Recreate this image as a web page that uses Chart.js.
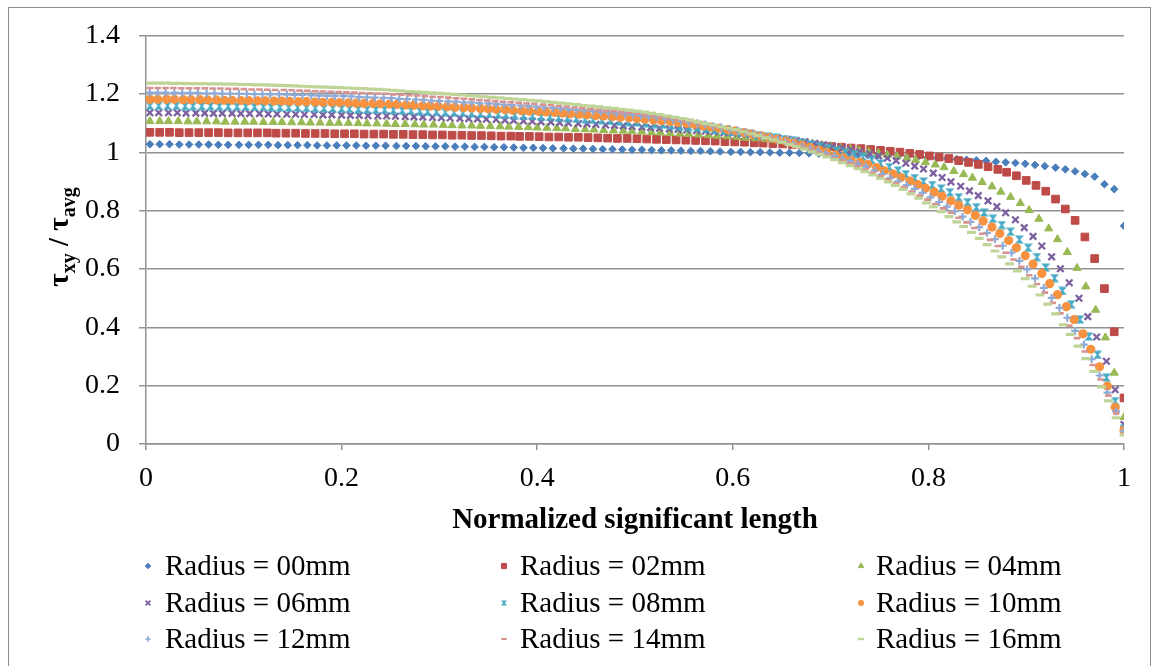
<!DOCTYPE html>
<html>
<head>
<meta charset="utf-8">
<script src="https://cdn.jsdelivr.net/npm/chart.js@4.4.1/dist/chart.umd.min.js"></script>
<style>
  body { margin: 0; background: #fff; }
  #wrap { position: relative; width: 1158px; height: 666px; overflow: hidden; }
  #frame { position: absolute; left: 8px; top: 7px; width: 1141px; height: 700px; border: 1px solid #8c8c8c; }
  #c { position: absolute; left: 0; top: 0; }
</style>
</head>
<body>
<div id="wrap">
  <div id="frame"></div>
  <canvas id="c" width="1158" height="666"></canvas>
</div>
<script>
// series names
const seriesNames = ['Radius = 00mm', 'Radius = 02mm', 'Radius = 04mm', 'Radius = 06mm', 'Radius = 08mm',
  'Radius = 10mm', 'Radius = 12mm', 'Radius = 14mm', 'Radius = 16mm'];

// axis ticks
const xTicks = [0, 0.2, 0.4, 0.6, 0.8, 1];
const yTicks = [0, 0.2, 0.4, 0.6, 0.8, 1, 1.2, 1.4];

// Radius = 00mm
const r00x = [0.004,0.014,0.024,0.034,0.044,0.054,0.064,0.074,0.084,0.095,
0.105,0.115,0.125,0.135,0.145,0.155,0.165,0.175,0.185,0.195,
0.205,0.215,0.225,0.235,0.245,0.256,0.266,0.276,0.286,0.296,
0.306,0.316,0.326,0.336,0.346,0.356,0.366,0.376,0.386,0.396,
0.406,0.416,0.427,0.437,0.447,0.457,0.467,0.477,0.487,0.497,
0.507,0.517,0.527,0.537,0.547,0.557,0.567,0.577,0.587,0.598,
0.608,0.618,0.628,0.638,0.648,0.658,0.668,0.678,0.688,0.698,
0.708,0.718,0.728,0.738,0.748,0.759,0.769,0.779,0.789,0.799,
0.809,0.819,0.829,0.839,0.849,0.859,0.869,0.879,0.889,0.899,
0.909,0.919,0.930,0.940,0.950,0.960,0.970,0.980,0.990,1.000];
const r00y = [1.028,1.028,1.028,1.027,1.027,1.027,1.027,1.026,1.026,1.026,
1.026,1.026,1.026,1.025,1.025,1.025,1.025,1.024,1.024,1.024,
1.024,1.024,1.023,1.023,1.023,1.022,1.022,1.022,1.021,1.021,
1.021,1.020,1.020,1.019,1.019,1.018,1.018,1.017,1.016,1.016,
1.015,1.014,1.014,1.013,1.013,1.012,1.011,1.011,1.010,1.009,
1.009,1.008,1.007,1.007,1.006,1.005,1.005,1.004,1.003,1.002,
1.002,1.001,1.001,1.000,0.999,0.999,0.998,0.997,0.996,0.995,
0.994,0.993,0.992,0.991,0.990,0.989,0.987,0.986,0.984,0.983,
0.981,0.979,0.977,0.975,0.973,0.971,0.968,0.966,0.964,0.961,
0.957,0.953,0.948,0.942,0.935,0.926,0.917,0.891,0.874,0.748];

// Radius = 02mm
const r02x = [0.004,0.014,0.024,0.034,0.044,0.054,0.064,0.074,0.084,0.094,
0.104,0.114,0.124,0.133,0.143,0.153,0.163,0.173,0.183,0.193,
0.203,0.213,0.223,0.233,0.243,0.253,0.263,0.273,0.283,0.293,
0.303,0.313,0.323,0.333,0.343,0.353,0.363,0.373,0.382,0.392,
0.402,0.412,0.422,0.432,0.442,0.452,0.462,0.472,0.482,0.492,
0.502,0.512,0.522,0.532,0.542,0.552,0.562,0.572,0.582,0.592,
0.602,0.612,0.622,0.631,0.641,0.651,0.661,0.671,0.681,0.691,
0.701,0.711,0.721,0.731,0.741,0.751,0.761,0.771,0.781,0.791,
0.801,0.811,0.821,0.831,0.841,0.851,0.861,0.871,0.880,0.890,
0.900,0.910,0.920,0.930,0.940,0.950,0.960,0.970,0.980,0.990,
1.000];
const r02y = [1.069,1.069,1.069,1.068,1.068,1.068,1.068,1.068,1.067,1.067,
1.067,1.067,1.067,1.066,1.066,1.066,1.065,1.065,1.065,1.064,
1.064,1.064,1.063,1.063,1.063,1.062,1.062,1.061,1.061,1.060,
1.060,1.059,1.059,1.058,1.058,1.057,1.056,1.056,1.055,1.055,
1.054,1.053,1.053,1.052,1.052,1.051,1.050,1.049,1.048,1.048,
1.047,1.046,1.045,1.044,1.043,1.042,1.041,1.040,1.039,1.037,
1.036,1.035,1.033,1.032,1.030,1.029,1.027,1.026,1.024,1.022,
1.020,1.018,1.015,1.013,1.010,1.007,1.004,1.001,0.997,0.993,
0.988,0.984,0.979,0.972,0.966,0.959,0.951,0.942,0.932,0.920,
0.904,0.887,0.867,0.840,0.806,0.767,0.710,0.636,0.533,0.385,
0.158];

// Radius = 04mm
const r04x = [0.004,0.014,0.023,0.033,0.043,0.052,0.062,0.072,0.081,0.091,
0.101,0.110,0.120,0.130,0.139,0.149,0.159,0.168,0.178,0.188,
0.197,0.207,0.217,0.226,0.236,0.246,0.255,0.265,0.275,0.284,
0.294,0.304,0.313,0.323,0.333,0.342,0.352,0.362,0.371,0.381,
0.391,0.400,0.410,0.420,0.429,0.439,0.449,0.458,0.468,0.478,
0.488,0.497,0.507,0.517,0.526,0.536,0.546,0.555,0.565,0.575,
0.584,0.594,0.604,0.613,0.623,0.633,0.642,0.652,0.662,0.671,
0.681,0.691,0.700,0.710,0.720,0.729,0.739,0.749,0.758,0.768,
0.778,0.787,0.797,0.807,0.816,0.826,0.836,0.845,0.855,0.865,
0.874,0.884,0.894,0.903,0.913,0.923,0.932,0.942,0.952,0.961,
0.971,0.981,0.990,1.000];
const r04y = [1.107,1.107,1.107,1.107,1.106,1.106,1.106,1.106,1.105,1.105,
1.105,1.105,1.104,1.104,1.104,1.103,1.103,1.102,1.102,1.101,
1.101,1.101,1.100,1.099,1.099,1.098,1.097,1.097,1.096,1.095,
1.095,1.094,1.093,1.092,1.092,1.091,1.090,1.089,1.088,1.087,
1.086,1.085,1.084,1.083,1.082,1.080,1.079,1.078,1.076,1.075,
1.074,1.072,1.071,1.069,1.068,1.066,1.064,1.063,1.061,1.059,
1.057,1.055,1.053,1.050,1.048,1.045,1.043,1.039,1.036,1.033,
1.029,1.025,1.021,1.016,1.012,1.007,1.002,0.997,0.991,0.986,
0.980,0.974,0.966,0.958,0.949,0.936,0.925,0.913,0.898,0.883,
0.865,0.847,0.826,0.802,0.772,0.739,0.702,0.658,0.603,0.540,
0.460,0.365,0.244,0.092];

// Radius = 06mm
const r06x = [0.004,0.013,0.023,0.032,0.041,0.051,0.060,0.069,0.078,0.088,
0.097,0.106,0.116,0.125,0.134,0.144,0.153,0.162,0.172,0.181,
0.190,0.200,0.209,0.218,0.227,0.237,0.246,0.255,0.265,0.274,
0.283,0.293,0.302,0.311,0.321,0.330,0.339,0.348,0.358,0.367,
0.376,0.386,0.395,0.404,0.414,0.423,0.432,0.442,0.451,0.460,
0.470,0.479,0.488,0.497,0.507,0.516,0.525,0.535,0.544,0.553,
0.563,0.572,0.581,0.591,0.600,0.609,0.618,0.628,0.637,0.646,
0.656,0.665,0.674,0.684,0.693,0.702,0.712,0.721,0.730,0.740,
0.749,0.758,0.767,0.777,0.786,0.795,0.805,0.814,0.823,0.833,
0.842,0.851,0.861,0.870,0.879,0.889,0.898,0.907,0.916,0.926,
0.935,0.944,0.954,0.963,0.972,0.982,0.991,1.000];
const r06y = [1.136,1.136,1.136,1.136,1.135,1.135,1.135,1.134,1.134,1.134,
1.133,1.133,1.133,1.132,1.132,1.131,1.131,1.130,1.130,1.129,
1.129,1.128,1.127,1.127,1.126,1.125,1.125,1.124,1.123,1.122,
1.121,1.120,1.119,1.118,1.117,1.116,1.115,1.114,1.113,1.111,
1.110,1.108,1.107,1.105,1.104,1.102,1.101,1.099,1.098,1.096,
1.094,1.093,1.091,1.089,1.087,1.085,1.083,1.081,1.079,1.077,
1.075,1.073,1.071,1.068,1.066,1.063,1.060,1.056,1.053,1.049,
1.045,1.041,1.036,1.031,1.026,1.021,1.015,1.009,1.002,0.995,
0.988,0.980,0.972,0.963,0.953,0.943,0.929,0.914,0.899,0.884,
0.868,0.852,0.834,0.814,0.793,0.769,0.742,0.712,0.679,0.642,
0.601,0.553,0.500,0.437,0.367,0.284,0.186,0.067];

// Radius = 08mm
const r08x = [0.004,0.013,0.022,0.031,0.040,0.048,0.057,0.066,0.075,0.084,
0.093,0.102,0.111,0.120,0.128,0.137,0.146,0.155,0.164,0.173,
0.182,0.191,0.200,0.208,0.217,0.226,0.235,0.244,0.253,0.262,
0.271,0.280,0.288,0.297,0.306,0.315,0.324,0.333,0.342,0.351,
0.360,0.368,0.377,0.386,0.395,0.404,0.413,0.422,0.431,0.440,
0.449,0.457,0.466,0.475,0.484,0.493,0.502,0.511,0.520,0.529,
0.537,0.546,0.555,0.564,0.573,0.582,0.591,0.600,0.609,0.617,
0.626,0.635,0.644,0.653,0.662,0.671,0.680,0.689,0.697,0.706,
0.715,0.724,0.733,0.742,0.751,0.760,0.769,0.777,0.786,0.795,
0.804,0.813,0.822,0.831,0.840,0.849,0.857,0.866,0.875,0.884,
0.893,0.902,0.911,0.920,0.929,0.937,0.946,0.955,0.964,0.973,
0.982,0.991,1.000];
const r08y = [1.160,1.160,1.160,1.160,1.159,1.159,1.159,1.159,1.158,1.158,
1.157,1.157,1.156,1.156,1.155,1.155,1.154,1.154,1.153,1.152,
1.151,1.151,1.150,1.149,1.148,1.147,1.146,1.146,1.145,1.144,
1.143,1.142,1.140,1.139,1.138,1.137,1.136,1.135,1.133,1.132,
1.131,1.129,1.128,1.126,1.125,1.123,1.122,1.120,1.118,1.116,
1.114,1.112,1.110,1.108,1.106,1.104,1.103,1.100,1.097,1.095,
1.092,1.089,1.087,1.084,1.081,1.077,1.074,1.071,1.068,1.064,
1.059,1.055,1.050,1.045,1.040,1.033,1.027,1.021,1.014,1.007,
1.001,0.994,0.985,0.974,0.962,0.950,0.938,0.925,0.912,0.900,
0.888,0.876,0.863,0.846,0.829,0.812,0.794,0.773,0.751,0.728,
0.701,0.673,0.641,0.605,0.569,0.525,0.479,0.427,0.369,0.306,
0.228,0.147,0.053];

// Radius = 10mm
const r10x = [0.004,0.012,0.021,0.029,0.038,0.046,0.055,0.063,0.072,0.080,
0.088,0.097,0.105,0.114,0.122,0.131,0.139,0.147,0.156,0.164,
0.173,0.181,0.190,0.198,0.207,0.215,0.223,0.232,0.240,0.249,
0.257,0.266,0.274,0.283,0.291,0.299,0.308,0.316,0.325,0.333,
0.342,0.350,0.358,0.367,0.375,0.384,0.392,0.401,0.409,0.418,
0.426,0.434,0.443,0.451,0.460,0.468,0.477,0.485,0.494,0.502,
0.510,0.519,0.527,0.536,0.544,0.553,0.561,0.570,0.578,0.586,
0.595,0.603,0.612,0.620,0.629,0.637,0.645,0.654,0.662,0.671,
0.679,0.688,0.696,0.705,0.713,0.721,0.730,0.738,0.747,0.755,
0.764,0.772,0.781,0.789,0.797,0.806,0.814,0.823,0.831,0.840,
0.848,0.856,0.865,0.873,0.882,0.890,0.899,0.907,0.916,0.924,
0.932,0.941,0.949,0.958,0.966,0.975,0.983,0.991,1.000];
const r10y = [1.182,1.182,1.182,1.182,1.181,1.181,1.181,1.180,1.180,1.179,
1.179,1.178,1.178,1.177,1.177,1.176,1.176,1.175,1.174,1.174,
1.173,1.172,1.172,1.171,1.170,1.169,1.168,1.168,1.167,1.166,
1.165,1.163,1.162,1.160,1.159,1.158,1.157,1.155,1.154,1.152,
1.151,1.150,1.148,1.147,1.145,1.143,1.142,1.141,1.139,1.137,
1.135,1.133,1.131,1.129,1.127,1.125,1.123,1.121,1.119,1.116,
1.114,1.111,1.109,1.106,1.103,1.099,1.096,1.091,1.087,1.083,
1.078,1.074,1.068,1.063,1.057,1.051,1.045,1.039,1.032,1.025,
1.017,1.008,1.000,0.991,0.982,0.973,0.966,0.959,0.948,0.937,
0.926,0.914,0.902,0.890,0.877,0.864,0.850,0.834,0.819,0.803,
0.784,0.765,0.744,0.722,0.698,0.673,0.646,0.617,0.585,0.550,
0.512,0.471,0.427,0.378,0.325,0.265,0.199,0.126,0.047];

// Radius = 12mm
const r12x = [0.004,0.012,0.020,0.029,0.037,0.045,0.053,0.062,0.070,0.078,
0.086,0.095,0.103,0.111,0.119,0.127,0.136,0.144,0.152,0.160,
0.169,0.177,0.185,0.193,0.202,0.210,0.218,0.226,0.234,0.243,
0.251,0.259,0.267,0.276,0.284,0.292,0.300,0.309,0.317,0.325,
0.333,0.341,0.350,0.358,0.366,0.374,0.383,0.391,0.399,0.407,
0.416,0.424,0.432,0.440,0.448,0.457,0.465,0.473,0.481,0.490,
0.498,0.506,0.514,0.522,0.531,0.539,0.547,0.555,0.564,0.572,
0.580,0.588,0.597,0.605,0.613,0.621,0.629,0.638,0.646,0.654,
0.662,0.671,0.679,0.687,0.695,0.704,0.712,0.720,0.728,0.736,
0.745,0.753,0.761,0.769,0.778,0.786,0.794,0.802,0.811,0.819,
0.827,0.835,0.843,0.852,0.860,0.868,0.876,0.885,0.893,0.901,
0.909,0.918,0.926,0.934,0.942,0.950,0.959,0.967,0.975,0.983,
0.992,1.000];
const r12y = [1.205,1.205,1.205,1.205,1.204,1.204,1.204,1.203,1.203,1.202,
1.202,1.201,1.201,1.200,1.200,1.199,1.199,1.198,1.197,1.197,
1.196,1.195,1.194,1.193,1.193,1.192,1.190,1.189,1.188,1.187,
1.186,1.184,1.183,1.181,1.180,1.178,1.177,1.175,1.174,1.172,
1.171,1.169,1.168,1.166,1.164,1.162,1.161,1.159,1.157,1.155,
1.153,1.151,1.148,1.146,1.144,1.142,1.139,1.137,1.134,1.131,
1.129,1.126,1.123,1.120,1.116,1.112,1.108,1.104,1.100,1.096,
1.090,1.086,1.080,1.075,1.069,1.063,1.057,1.050,1.043,1.036,
1.029,1.021,1.013,1.005,0.997,0.988,0.979,0.970,0.961,0.951,
0.938,0.926,0.913,0.901,0.888,0.875,0.861,0.846,0.830,0.814,
0.799,0.780,0.762,0.744,0.724,0.703,0.680,0.656,0.628,0.599,
0.568,0.535,0.501,0.467,0.433,0.388,0.341,0.291,0.235,0.176,
0.112,0.044];

// Radius = 14mm
const r14x = [0.004,0.012,0.020,0.028,0.036,0.044,0.052,0.060,0.068,0.076,
0.084,0.092,0.100,0.108,0.116,0.124,0.132,0.141,0.149,0.157,
0.165,0.173,0.181,0.189,0.197,0.205,0.213,0.221,0.229,0.237,
0.245,0.253,0.261,0.269,0.277,0.285,0.293,0.301,0.309,0.317,
0.325,0.333,0.341,0.349,0.357,0.365,0.373,0.381,0.389,0.397,
0.406,0.414,0.422,0.430,0.438,0.446,0.454,0.462,0.470,0.478,
0.486,0.494,0.502,0.510,0.518,0.526,0.534,0.542,0.550,0.558,
0.566,0.574,0.582,0.590,0.598,0.606,0.614,0.622,0.630,0.638,
0.646,0.654,0.662,0.670,0.679,0.687,0.695,0.703,0.711,0.719,
0.727,0.735,0.743,0.751,0.759,0.767,0.775,0.783,0.791,0.799,
0.807,0.815,0.823,0.831,0.839,0.847,0.855,0.863,0.871,0.879,
0.887,0.895,0.903,0.911,0.919,0.927,0.935,0.944,0.952,0.960,
0.968,0.976,0.984,0.992,1.000];
const r14y = [1.221,1.221,1.221,1.221,1.220,1.220,1.220,1.220,1.219,1.219,
1.218,1.218,1.217,1.216,1.216,1.215,1.214,1.214,1.213,1.212,
1.211,1.210,1.209,1.208,1.207,1.206,1.205,1.204,1.203,1.202,
1.201,1.199,1.198,1.196,1.195,1.193,1.191,1.190,1.188,1.186,
1.184,1.182,1.180,1.178,1.176,1.174,1.172,1.170,1.168,1.167,
1.164,1.162,1.159,1.157,1.154,1.152,1.149,1.146,1.144,1.141,
1.138,1.136,1.133,1.130,1.126,1.122,1.118,1.114,1.110,1.106,
1.101,1.096,1.091,1.086,1.081,1.075,1.069,1.062,1.056,1.049,
1.042,1.034,1.026,1.018,1.009,1.000,0.991,0.981,0.972,0.962,
0.952,0.941,0.930,0.919,0.907,0.894,0.881,0.866,0.852,0.838,
0.823,0.808,0.793,0.776,0.760,0.741,0.721,0.700,0.679,0.656,
0.633,0.608,0.579,0.549,0.519,0.484,0.448,0.406,0.363,0.317,
0.271,0.221,0.166,0.105,0.036];

// Radius = 16mm
const r16x = [0.004,0.012,0.020,0.027,0.035,0.043,0.051,0.058,0.066,0.074,
0.082,0.090,0.097,0.105,0.113,0.121,0.128,0.136,0.144,0.152,
0.160,0.167,0.175,0.183,0.191,0.199,0.206,0.214,0.222,0.230,
0.237,0.245,0.253,0.261,0.269,0.276,0.284,0.292,0.300,0.307,
0.315,0.323,0.331,0.339,0.346,0.354,0.362,0.370,0.377,0.385,
0.393,0.401,0.409,0.416,0.424,0.432,0.440,0.447,0.455,0.463,
0.471,0.479,0.486,0.494,0.502,0.510,0.517,0.525,0.533,0.541,
0.549,0.556,0.564,0.572,0.580,0.588,0.595,0.603,0.611,0.619,
0.626,0.634,0.642,0.650,0.658,0.665,0.673,0.681,0.689,0.696,
0.704,0.712,0.720,0.728,0.735,0.743,0.751,0.759,0.766,0.774,
0.782,0.790,0.798,0.805,0.813,0.821,0.829,0.836,0.844,0.852,
0.860,0.868,0.875,0.883,0.891,0.899,0.906,0.914,0.922,0.930,
0.938,0.945,0.953,0.961,0.969,0.977,0.984,0.992,1.000];
const r16y = [1.238,1.238,1.238,1.237,1.237,1.236,1.236,1.236,1.235,1.235,
1.234,1.234,1.233,1.233,1.232,1.232,1.231,1.230,1.229,1.228,
1.227,1.226,1.225,1.224,1.223,1.222,1.221,1.220,1.219,1.217,
1.216,1.215,1.213,1.211,1.209,1.208,1.206,1.204,1.203,1.201,
1.199,1.197,1.195,1.193,1.191,1.189,1.187,1.185,1.183,1.181,
1.179,1.177,1.174,1.172,1.169,1.167,1.164,1.161,1.159,1.156,
1.153,1.151,1.148,1.145,1.142,1.138,1.134,1.130,1.125,1.120,
1.116,1.111,1.105,1.099,1.094,1.088,1.083,1.078,1.071,1.064,
1.058,1.050,1.043,1.035,1.027,1.020,1.011,1.002,0.993,0.985,
0.975,0.965,0.955,0.944,0.934,0.923,0.911,0.899,0.887,0.873,
0.858,0.843,0.827,0.813,0.797,0.780,0.762,0.746,0.726,0.705,
0.684,0.662,0.642,0.618,0.594,0.567,0.541,0.511,0.480,0.446,
0.409,0.376,0.336,0.293,0.249,0.196,0.148,0.090,0.031];

const seriesX = [r00x, r02x, r04x, r06x, r08x, r10x, r12x, r14x, r16x];
const seriesY = [r00y, r02y, r04y, r06y, r08y, r10y, r12y, r14y, r16y];

// looks
const colors = ['#4a7ebb', '#be4b48', '#98b954', '#7d60a0', '#46aac5', '#f69240', '#8eaad7', '#d8928f', '#bed597'];
const serif = '"Liberation Serif", "Times New Roman", serif';
const gridColor = '#929292';

// hourglass marker for the 08mm series (no built-in style for it)
function hourglass(color, s) {
  var c = document.createElement('canvas');
  c.width = s; c.height = s;
  var g = c.getContext('2d');
  g.fillStyle = color;
  g.beginPath();
  g.moveTo(0, 0.5); g.lineTo(s, 0.5);
  g.lineTo(s / 2 + 0.9, s / 2);
  g.lineTo(s, s - 0.5); g.lineTo(0, s - 0.5);
  g.lineTo(s / 2 - 0.9, s / 2);
  g.closePath();
  g.fill();
  return c;
}

const markers = [
  { pointStyle: 'rectRot', radius: 3.8, borderWidth: 1 },
  { pointStyle: 'rect', radius: 5.4, borderWidth: 1 },
  { pointStyle: 'triangle', radius: 4.7, borderWidth: 1 },
  { pointStyle: 'crossRot', radius: 4.6, borderWidth: 2.3 },
  { pointStyle: hourglass(colors[4], 9), radius: 4.5, borderWidth: 0 },
  { pointStyle: 'circle', radius: 4.6, borderWidth: 0 },
  { pointStyle: 'cross', radius: 3.9, borderWidth: 2.2 },
  { pointStyle: 'line', radius: 3.3, borderWidth: 2.6 },
  { pointStyle: 'line', radius: 4.4, borderWidth: 3.2 }
];
const legendMarkers = [
  { pointStyle: 'rectRot', radius: 2.8, borderWidth: 1 },
  { pointStyle: 'rect', radius: 3.6, borderWidth: 1 },
  { pointStyle: 'triangle', radius: 3.2, borderWidth: 1 },
  { pointStyle: 'crossRot', radius: 3.4, borderWidth: 1.8 },
  { pointStyle: hourglass(colors[4], 6), radius: 3, borderWidth: 0 },
  { pointStyle: 'circle', radius: 3, borderWidth: 0 },
  { pointStyle: 'cross', radius: 2.8, borderWidth: 1.6 },
  { pointStyle: 'line', radius: 2.6, borderWidth: 2 },
  { pointStyle: 'line', radius: 3.2, borderWidth: 2.4 }
];

// legend grid: 3 columns x 3 rows
const legendMarkX = [148, 504, 861];
const legendTextX = [165, 520, 876];
const legendRowY = [566, 603, 639];

const gridLegend = {
  id: 'gridLegend',
  afterDraw(chart) {
    var ctx = chart.ctx;
    ctx.save();
    ctx.font = '29px ' + serif;
    ctx.textBaseline = 'middle';
    ctx.textAlign = 'left';
    seriesNames.forEach(function (name, i) {
      var col = i % 3, row = Math.floor(i / 3);
      var m = legendMarkers[i];
      ctx.fillStyle = colors[i];
      ctx.strokeStyle = colors[i];
      ctx.lineWidth = m.borderWidth;
      if (Chart.helpers && Chart.helpers.drawPoint) {
        Chart.helpers.drawPoint(ctx, { pointStyle: m.pointStyle, radius: m.radius, borderWidth: m.borderWidth, rotation: 0 },
          legendMarkX[col], legendRowY[row]);
      }
      ctx.fillStyle = '#000';
      ctx.fillText(name, legendTextX[col], legendRowY[row] + 1);
    });
    ctx.restore();
  }
};

// y axis title with subscripts: tau_xy / tau_avg
const yTitle = {
  id: 'yTitle',
  afterDraw(chart) {
    var ctx = chart.ctx;
    var big = 'bold 29px ' + serif, small = 'bold 20px ' + serif;
    var parts = [['\u03c4', big, 0], ['xy', small, 7], [' / ', big, 0], ['\u03c4', big, 0], ['avg', small, 7]];
    ctx.save();
    ctx.translate(68, 237);
    ctx.rotate(-Math.PI / 2);
    ctx.fillStyle = '#000';
    ctx.textBaseline = 'alphabetic';
    var total = 0;
    parts.forEach(function (p) { ctx.font = p[1]; total += ctx.measureText(p[0]).width; });
    var x = -total / 2;
    parts.forEach(function (p) {
      ctx.font = p[1];
      ctx.fillText(p[0], x, p[2]);
      x += ctx.measureText(p[0]).width;
    });
    ctx.restore();
  }
};

var datasets = seriesNames.map(function (name, i) {
  var m = markers[i];
  return {
    label: name,
    data: seriesX[i].map(function (x, k) { return { x: x, y: seriesY[i][k] }; }),
    showLine: false,
    pointStyle: m.pointStyle,
    pointRadius: m.radius,
    pointBorderWidth: m.borderWidth,
    pointBackgroundColor: colors[i],
    pointBorderColor: colors[i],
    order: 8 - i
  };
});

// plain labels like 0, 0.2 ... 1 (no forced decimals)
function plainLabel(v) { return String(Math.round(v * 10) / 10); }

var ctx = document.getElementById('c').getContext('2d');
var chart = new Chart(ctx, {
  type: 'scatter',
  data: { datasets: datasets },
  options: {
    responsive: false,
    animation: false,
    devicePixelRatio: 1,
    events: [],
    layout: { padding: { top: 35, right: 34, bottom: 128, left: 0 } },
    plugins: { legend: { display: false }, tooltip: { enabled: false } },
    scales: {
      x: {
        type: 'linear',
        min: xTicks[0],
        max: xTicks[xTicks.length - 1],
        afterBuildTicks: function (s) { s.ticks = xTicks.map(function (v) { return { value: v }; }); },
        ticks: { color: '#000', font: { family: serif, size: 28 }, padding: 12, maxRotation: 0, callback: plainLabel },
        grid: { drawOnChartArea: false, tickLength: 6, color: gridColor, lineWidth: 1.5 },
        border: { color: gridColor, width: 1.5 },
        title: { display: true, text: 'Normalized significant length', color: '#000',
          font: { family: serif, size: 29, weight: 'bold' }, padding: 0 },
        afterFit: function (s) { s.height = 94; }
      },
      y: {
        type: 'linear',
        min: yTicks[0],
        max: yTicks[yTicks.length - 1],
        afterBuildTicks: function (s) { s.ticks = yTicks.map(function (v) { return { value: v }; }); },
        ticks: { color: '#000', font: { family: serif, size: 28 }, padding: 19, callback: plainLabel },
        grid: { tickLength: 7, color: gridColor, lineWidth: 1.5 },
        border: { color: gridColor, width: 1.5 },
        afterFit: function (s) { s.width = 146; }
      }
    }
  },
  plugins: [gridLegend, yTitle]
});
</script>
</body>
</html>
